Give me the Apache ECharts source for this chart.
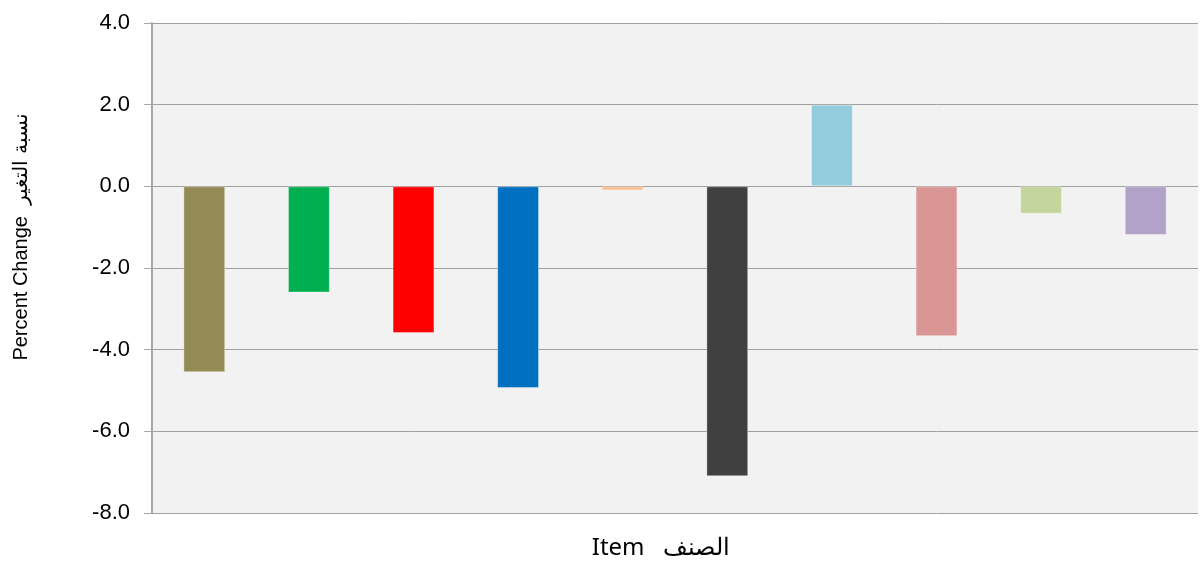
<!DOCTYPE html>
<html><head><meta charset="utf-8">
<script src="https://cdn.jsdelivr.net/npm/echarts@6/dist/echarts.min.js"></script>
<style>html,body{margin:0;padding:0;background:#fff}#c{width:1200px;height:563px}</style>
</head><body><div id="c"></div>
<script>
const categories = ['1','2','3','4','5','6','7','8','9','10'];
const values = [-4.55, -2.6, -3.59, -4.94, -0.1, -7.1, 2.0, -3.67, -0.67, -1.19];
const colors = ['#948A54','#00B050','#FF0000','#0070C0','#FAC090','#404040','#93CDDD','#D99694','#C3D69B','#B3A2C7'];
const yTicks = {min: -8, max: 4, interval: 2};
const xTitle = 'Item   الصنف';
const yTitle = 'Percent Change  نسبة التغير';

const chart = echarts.init(document.getElementById('c'), null, {renderer: 'canvas'});
chart.setOption({
  animation: false,
  grid: {left: 152, right: 2, top: 23, bottom: 50, backgroundColor: '#F2F2F2', show: true, borderWidth: 0},
  xAxis: {
    type: 'category', data: categories,
    axisLine: {show: false}, axisTick: {show: false}, axisLabel: {show: false}
  },
  yAxis: {
    type: 'value', min: yTicks.min, max: yTicks.max, interval: yTicks.interval,
    axisLine: {show: true, lineStyle: {color: '#A6A6A6', width: 2}},
    axisTick: {show: true, length: 8, lineStyle: {color: '#A6A6A6', width: 1}},
    axisLabel: {formatter: v => v.toFixed(1), fontFamily: 'Liberation Sans', fontSize: 22, color: '#000', margin: 22},
    splitLine: {show: true, lineStyle: {color: '#A0A0A0', width: 1}}
  },
  graphic: [
    {type: 'text', x: 661, y: 548,
     style: {text: xTitle, font: '24px "Noto Sans"', fill: '#000', align: 'center', verticalAlign: 'middle'}},
    {type: 'text', x: 21, y: 237, rotation: Math.PI/2,
     style: {text: yTitle, font: '20px "Liberation Sans"', fill: '#000', align: 'center', verticalAlign: 'middle'}}
  ],
  series: [{
    type: 'bar', barWidth: '40%',
    data: values.map((v, i) => ({value: v, itemStyle: {color: colors[i]}})),
    itemStyle: {borderColor: 'rgba(255,255,255,0.35)', borderWidth: 1}
  }]
});
</script></body></html>
